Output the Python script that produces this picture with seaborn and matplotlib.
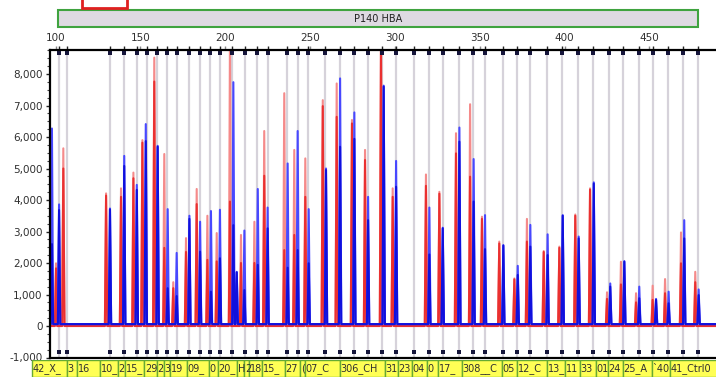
import numpy as np
import pandas as pd
import seaborn as sns
import matplotlib.pyplot as plt
from matplotlib.patches import Rectangle
from matplotlib.ticker import FuncFormatter, MultipleLocator

# probe positions (bp) -> grey guide lines
probe_bp = [102.1, 106.8, 132.1, 140.4, 148.0, 153.9, 159.8, 165.7, 171.6, 178.7,
            185.2, 191.0, 196.9, 204.0, 211.7, 218.7, 225.2, 236.2, 242.7, 248.6,
            259.0, 267.7, 276.1, 284.0, 292.4, 300.7, 311.1, 320.3, 328.2, 337.6,
            345.9, 353.1, 363.5, 371.8, 379.6, 389.5, 398.5, 408.1, 416.9, 426.3,
            434.6, 443.7, 451.9, 460.8, 469.6, 478.4]

# red channel peaks: position, trace a (light), trace b (dark)
red_bp = [100.3, 104.6, 129.8, 138.6, 145.9, 151.2, 158.2, 164.1, 169.4, 176.9,
          183.2, 189.5, 195.0, 202.8, 209.3, 217.2, 223.0, 234.8, 240.7, 247.2,
          257.5, 265.7, 274.7, 282.4, 291.8, 298.7, 318.3, 326.2, 336.0, 344.3,
          351.3, 361.5, 370.4, 377.8, 387.7, 396.9, 406.3, 415.0, 425.0, 433.2,
          442.1, 451.9, 459.2, 468.6, 477.0]
red_a = [1990, 5640, 4210, 4370, 4870, 5900, 8520, 5460, 1390, 2790,
         4350, 3500, 2950, 9200, 2890, 3310, 6190, 7390, 5590, 5320,
         7170, 7700, 6540, 5590, 9200, 4370, 4810, 4260, 6120, 7040,
         3470, 2680, 1510, 3400, 2380, 2520, 3540, 4370, 1070, 2040,
         1040, 1280, 1490, 2970, 1720]
red_b = [1830, 5000, 4140, 4100, 4690, 5820, 7760, 2480, 1200, 2350,
         3870, 2100, 2050, 3950, 2000, 2000, 4770, 2410, 2890, 4100,
         6980, 6640, 6430, 5270, 8900, 4100, 4450, 4200, 5480, 4740,
         3400, 2620, 1480, 2680, 2350, 2480, 3500, 4330, 860, 1320,
         750, 830, 1040, 1990, 1390]

# blue channel peaks
blue_bp = [97.9, 102.1, 132.1, 140.5, 147.9, 153.2, 160.2, 166.1, 171.4, 178.9,
           185.2, 191.6, 196.9, 204.8, 206.8, 211.3, 219.2, 225.0, 236.8, 242.7,
           249.2, 259.4, 267.7, 276.1, 284.2, 293.4, 300.7, 320.3, 328.2, 338.0,
           346.4, 353.1, 363.9, 372.4, 379.8, 390.0, 398.9, 408.3, 417.2, 426.9,
           435.2, 444.0, 453.9, 461.3, 470.5, 479.0]
blue_a = [6270, 3860, 3730, 5400, 4480, 6410, 5720, 3710, 2320, 3500,
          3310, 3650, 3690, 7740, 1720, 3030, 4350, 3760, 5160, 6190,
          3710, 5000, 7860, 6780, 4100, 7630, 5240, 3760, 3120, 6300,
          5300, 3520, 2570, 1910, 3210, 2910, 3520, 2840, 4560, 1350,
          2060, 1250, 860, 1090, 3360, 1160]
blue_b = [2600, 3680, 3700, 5080, 4320, 5870, 5690, 1200, 950, 3400,
          2360, 1090, 2150, 3200, 1700, 1140, 1940, 3100, 1850, 2410,
          1990, 4950, 5690, 5940, 3360, 7600, 4420, 2270, 3100, 5850,
          3950, 2440, 2550, 1620, 2520, 2250, 3500, 2780, 4520, 1250,
          2040, 880, 830, 720, 2780, 980]

# probe name strip under the plot (start position in bp)
lab_start = [86.2, 106.8, 112.7, 126.2, 136.8, 141.0, 152.2, 159.8, 163.9, 167.5,
             177.5, 190.5, 195.8, 207.1, 211.2, 214.0, 221.7, 235.2, 244.1, 247.0,
             267.7, 294.2, 301.8, 310.1, 318.9, 325.4, 339.5, 363.1, 372.0, 389.6,
             400.2, 409.1, 418.5, 425.6, 434.4, 451.5, 462.1]
lab_text = ["42_X_", "3", "16", "10_", "2", "15_", "29", "2", "3", "19",
            "09_", "0", "20_", "H", "2", "18", "15_", "27", "(", "07_C",
            "306_CH", "31", "23", "04", "0", "17_", "308__C", "05", "12_C", "13_",
            "11", "33", "01", "24", "25_A", "`40", "41_Ctrl0"]

XMIN, XMAX = 96.46, 490.4
YMIN, YMAX = -1000, 8762


def trace(pos, heights, base, name):
    xs, ys = [XMIN], [base]
    for p, h in sorted(zip(pos, heights)):
        xs += [p - 0.7, p, p + 0.7]
        ys += [base, h, base]
    xs.append(XMAX)
    ys.append(base)
    return pd.DataFrame({"x": xs, "y": ys, "trace": name})


df = pd.concat([trace(red_bp, red_a, 0, "red_a"),
                trace(red_bp, red_b, 0, "red_b"),
                trace(blue_bp, blue_a, 60, "blue_a"),
                trace(blue_bp, blue_b, 60, "blue_b")], ignore_index=True)

sns.set_style("white")
plt.rcParams["font.family"] = ["DejaVu Sans"]

W, H = 716, 377
fig = plt.figure(figsize=(W / 100, H / 100), dpi=100)
ax = fig.add_axes([49.5 / W, 1 - 357.5 / H, (718 - 49.5) / W, (357.5 - 50) / H])

ax.vlines(probe_bp, YMIN, YMAX, color="#d6d2da", lw=1.6, zorder=1)
sns.lineplot(data=df, x="x", y="y", hue="trace",
             hue_order=["red_a", "red_b", "blue_a", "blue_b"],
             palette=["#f58a8a", "#ea3030", "#4848ff", "#1010dd"],
             estimator=None, sort=False, legend=False, linewidth=1.5, ax=ax)

# probe markers at top and bottom
ax.scatter(probe_bp, [8660] * len(probe_bp), marker="s", s=7, color="#15153a", zorder=5, lw=0)
ax.scatter(probe_bp, [-830] * len(probe_bp), marker="s", s=7, color="#15153a", zorder=5, lw=0)

ax.set_xlim(XMIN, XMAX)
ax.set_ylim(YMIN, YMAX)
ax.set_xlabel("")
ax.set_ylabel("")

ax.xaxis.tick_top()
ax.set_xticks(range(100, 500, 50))
ax.set_xticks(probe_bp, minor=True)
ax.tick_params(axis="x", which="major", top=True, bottom=False, labeltop=True, labelbottom=False,
               length=3, width=1, color="#888888", labelsize=7.5, labelcolor="#303030", pad=2)
ax.tick_params(axis="x", which="minor", top=True, bottom=False, length=3, width=1, color="#222222")

ax.set_yticks(range(-1000, 9000, 1000))
ax.yaxis.set_minor_locator(MultipleLocator(250))
ax.yaxis.set_major_formatter(FuncFormatter(lambda v, p: f"{int(v):,}"))
ax.tick_params(axis="y", which="major", left=True, length=3, width=1, labelsize=7.5,
               labelcolor="#303030", pad=2)
ax.tick_params(axis="y", which="minor", left=True, length=2, width=0.8, color="#444444")

for s in ["left", "top", "bottom"]:
    ax.spines[s].set_linewidth(1.6)
    ax.spines[s].set_color("black")
ax.spines["right"].set_visible(False)

# header bar
fig.patches.append(Rectangle((58 / W, 1 - 27 / H), 640 / W, 17 / H, transform=fig.transFigure,
                             facecolor="#dedae2", edgecolor="#3fa33f", lw=1.5))
fig.text(378 / W, 1 - 18.5 / H, "P140 HBA", ha="center", va="center", fontsize=7, color="#202020")
fig.patches.append(Rectangle((82 / W, 1 - 8 / H), 45 / W, 12 / H, transform=fig.transFigure,
                             facecolor="white", edgecolor="#e02020", lw=2))

# label strip
lab = fig.add_axes([0, 0, 718 / W, 17 / H])
lab.set_xlim(100 - 55.5 / 1.697, XMAX)
lab.set_ylim(0, 1)
lab.axis("off")
ends = lab_start[1:] + [XMAX + 5]
for x0, x1, t in zip(lab_start, ends, lab_text):
    r = Rectangle((x0, 0), x1 - x0, 1, facecolor="#ffff55", edgecolor="#66aa33", lw=1)
    lab.add_patch(r)
    txt = lab.text(x0 + 0.4, 0.5, t, ha="left", va="center", fontsize=7, color="#303030")
    txt.set_clip_path(r)

fig.savefig("out.png", dpi=100)
